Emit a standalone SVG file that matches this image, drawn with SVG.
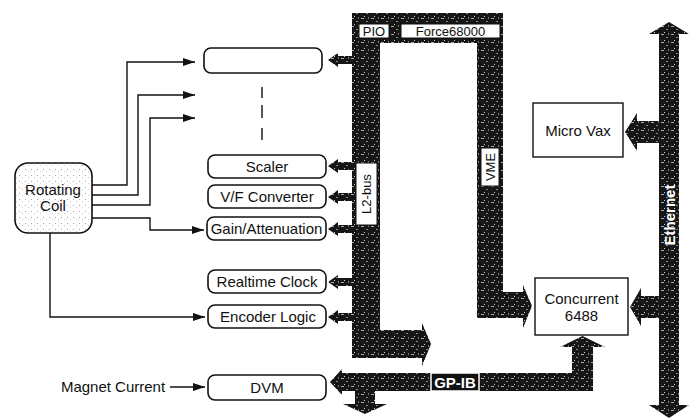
<svg xmlns="http://www.w3.org/2000/svg" width="689" height="420" viewBox="0 0 689 420">
<style>
.box{fill:#fff;stroke:#111;stroke-width:1.6}
.t{font-family:"Liberation Sans",Arial,sans-serif;font-size:15px;fill:#111;text-anchor:middle;dominant-baseline:central}
.line{fill:none;stroke:#111;stroke-width:1.4}
.bus{fill:url(#tex)}
.lbl{font-family:"Liberation Sans",Arial,sans-serif;font-size:13px;fill:#111;text-anchor:middle;dominant-baseline:central}
.wl{font-family:"Liberation Sans",Arial,sans-serif;font-size:15px;font-weight:bold;fill:#fff;text-anchor:middle;dominant-baseline:central}
</style>
<defs>
<pattern id="tex" width="10" height="8" patternUnits="userSpaceOnUse">
<rect width="10" height="8" fill="#161616"/>
<rect x="1" y="2" width="3" height="1" fill="#aaa"/>
<rect x="6" y="5" width="2" height="1" fill="#888"/>
<rect x="4" y="0" width="1" height="1" fill="#ccc"/>
<rect x="8" y="1" width="1" height="2" fill="#777"/>
</pattern>
<pattern id="stip" width="6" height="6" patternUnits="userSpaceOnUse">
<rect width="6" height="6" fill="#fff"/>
<rect x="1" y="1" width="1" height="1" fill="#aaa"/>
<rect x="4" y="3" width="1" height="1" fill="#ccc"/>
</pattern>
<marker id="ah" viewBox="0 0 12 8" refX="12" refY="4" markerWidth="12" markerHeight="8" markerUnits="userSpaceOnUse" orient="auto">
<path d="M0,0 L12,4 L0,8 Z" fill="#111"/>
</marker>
</defs>

<g id="connectors">
<path class="line" d="M92,185 H127 V62 H195" marker-end="url(#ah)"/>
<path class="line" d="M92,195 H138 V95 H195" marker-end="url(#ah)"/>
<path class="line" d="M92,205 H150 V118 H195" marker-end="url(#ah)"/>
<path class="line" d="M92,218 H150 V230 H204" marker-end="url(#ah)"/>
<path class="line" d="M50,233 V317 H205" marker-end="url(#ah)"/>
<path class="line" d="M170,387 H205" marker-end="url(#ah)"/>
<path class="line" d="M262,87 V98 M262,105 V118 M262,128 V140" stroke-width="2"/>
</g>

<g id="buses">
<path class="bus" d="M352,13 H503 V292 H523 V285 L532,306 L523,328 V318 H477 V43 H380 V330 H422 V323 L431,344 L422,366 V358 H352 Z"/>
<path class="bus" d="M352,56 H338 V53 L328,60 L338,67 V64 H352 Z"/>
<path class="bus" d="M352,162 H338 V159 L328,166 L338,173 V170 H352 Z"/>
<path class="bus" d="M352,193 H338 V190 L328,197 L338,204 V201 H352 Z"/>
<path class="bus" d="M352,225 H338 V222 L328,229 L338,236 V233 H352 Z"/>
<path class="bus" d="M352,278 H338 V275 L328,282 L338,289 V286 H352 Z"/>
<path class="bus" d="M352,313 H338 V310 L328,317 L338,324 V321 H352 Z"/>
<path class="bus" d="M330,382 L342,369 V373 H572 V347 H560 L582.5,336 L605,347 H593 V391 H375 V404 H387 L365,414 L343,404 H355 V391 H342 V395 Z"/>
<path class="bus" d="M659,34 H649 L669,22 L689,34 H679 V405 H689 L669,418 L649,405 H659 V143 H637 V151 L625,132 L637,113 V121 H659 V318 H641 V326 L630,307 L641,288 V296 H659 Z"/>
<rect x="359" y="24" width="30" height="14" fill="#fff" stroke="#111"/>
<text class="lbl" x="374" y="31">PIO</text>
<rect x="401" y="24" width="99" height="14" fill="#fff" stroke="#111"/>
<text class="lbl" x="450.5" y="31">Force68000</text>
<rect x="356" y="163" width="21" height="62" fill="#fff" stroke="#111"/>
<text class="lbl" transform="translate(366.5,194) rotate(-90)">L2-bus</text>
<rect x="481" y="148" width="18" height="38" fill="#fff" stroke="#111"/>
<text class="lbl" transform="translate(490,167) rotate(-90)">VME</text>
<rect x="431" y="373" width="48" height="18" fill="#111" stroke="#fff" stroke-width="1.5"/>
<text class="wl" x="455" y="382">GP-IB</text>
<text class="wl" transform="translate(669,215) rotate(-90)">Ethernet</text>
</g>

<g id="coil">
<rect x="15" y="163" width="77" height="70" rx="13" fill="url(#stip)" stroke="#111" stroke-width="1.6"/>
<text class="t" x="53" y="189">Rotating</text>
<text class="t" x="53" y="205">Coil</text>
</g>
<g id="top-box"><rect class="box" x="204" y="48" width="118" height="25" rx="7"/></g>
<g id="scaler"><rect class="box" x="208" y="155" width="118" height="23" rx="7"/><text class="t" x="267" y="166.5">Scaler</text></g>
<g id="vf"><rect class="box" x="208" y="185" width="118" height="23" rx="7"/><text class="t" x="267" y="196.5">V/F Converter</text></g>
<g id="gain"><rect class="box" x="207" y="217" width="119" height="23" rx="7"/><text class="t" x="266.5" y="228.5">Gain/Attenuation</text></g>
<g id="rtc"><rect class="box" x="208" y="270" width="118" height="23" rx="7"/><text class="t" x="267" y="281.5">Realtime Clock</text></g>
<g id="encoder"><rect class="box" x="208" y="305" width="118" height="23" rx="7"/><text class="t" x="268" y="316.5">Encoder Logic</text></g>
<g id="dvm"><rect class="box" x="208" y="375" width="118" height="25" rx="7"/><text class="t" x="267" y="387.5">DVM</text></g>
<g id="magnet"><text class="t" x="113" y="386">Magnet Current</text></g>
<g id="microvax"><rect x="533" y="103" width="90" height="54" fill="#fff" stroke="#111" stroke-width="1.4"/><text class="t" x="578" y="130">Micro Vax</text></g>
<g id="concurrent"><rect x="535" y="278" width="93" height="57" fill="#fff" stroke="#111" stroke-width="1.4"/><text class="t" x="581.5" y="298">Concurrent</text><text class="t" x="581.5" y="315">6488</text></g>
</svg>
